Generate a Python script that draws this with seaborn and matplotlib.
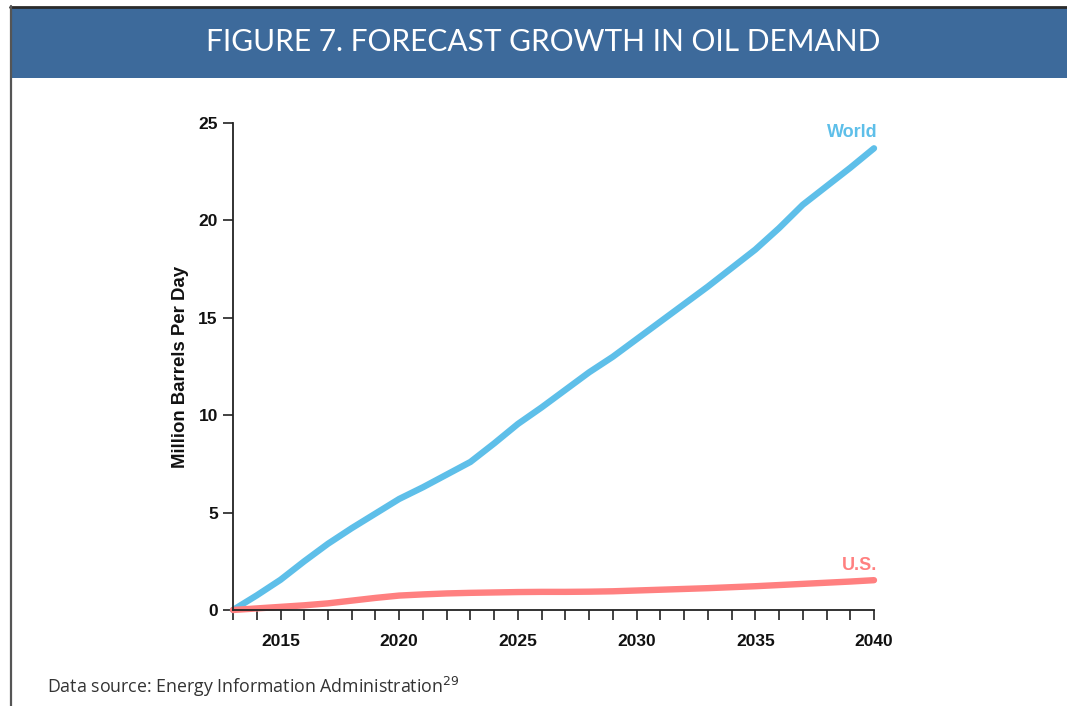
import matplotlib
matplotlib.use("Agg")
import matplotlib.pyplot as plt
from matplotlib.patches import Rectangle
from matplotlib.lines import Line2D
from matplotlib.ticker import MultipleLocator
import numpy as np
import pandas as pd
import seaborn as sns

# Forecast growth in oil demand relative to 2013 (million barrels per day)
years = list(range(2013, 2041))
world = [0.0, 0.75, 1.55, 2.5, 3.4, 4.2, 4.95, 5.7, 6.3, 6.95, 7.6, 8.55, 9.55, 10.4,
         11.3, 12.2, 13.0, 13.9, 14.8, 15.7, 16.6, 17.55, 18.5, 19.6, 20.8, 21.75,
         22.7, 23.7]
us = [0.0, 0.08, 0.16, 0.24, 0.34, 0.48, 0.62, 0.74, 0.80, 0.85, 0.88, 0.90, 0.92,
      0.93, 0.93, 0.94, 0.96, 1.0, 1.04, 1.08, 1.12, 1.17, 1.22, 1.28, 1.34, 1.40,
      1.46, 1.53]
series_names = ["World", "U.S."]
series_colors = ["#5ebfe9", "#ff8080"]
x_major_ticks = [2015, 2020, 2025, 2030, 2035, 2040]
y_ticks = [0, 5, 10, 15, 20, 25]

df = pd.DataFrame({
    "Year": years * 2,
    "Demand": world + us,
    "Region": [series_names[0]] * len(years) + [series_names[1]] * len(years),
})

sns.set_theme(style="ticks")
plt.rcParams["font.family"] = ["Liberation Sans", "DejaVu Sans"]

fig = plt.figure(figsize=(10.67, 7.06), dpi=100)
ax = fig.add_axes([0.2184, 0.136, 0.6007, 0.6898])

sns.lineplot(data=df, x="Year", y="Demand", hue="Region",
             palette=dict(zip(series_names, series_colors)),
             linewidth=4.6, legend=False, ax=ax, sort=True)
for line in ax.get_lines():
    line.set_solid_capstyle("round")
    line.set_solid_joinstyle("round")
    line.set_clip_on(False)

ax.set_xlim(2013, 2040)
ax.set_ylim(0, 25)
ax.set_xticks(x_major_ticks)
ax.xaxis.set_minor_locator(MultipleLocator(1))
ax.set_yticks(y_ticks)
ax.tick_params(axis="x", which="both", direction="out", length=7, width=1.2,
               color="#222222", pad=10)
ax.tick_params(axis="y", which="major", direction="out", length=7, width=1.2,
               color="#222222", pad=4)
for lab in ax.get_xticklabels() + ax.get_yticklabels():
    lab.set_fontweight("bold")
    lab.set_fontsize(12.5)
    lab.set_color("#111111")
ax.set_xlabel("")
ax.set_ylabel("Million Barrels Per Day", fontsize=13.4, fontweight="bold",
              color="#111111", labelpad=7)
sns.despine(ax=ax)
for side in ("left", "bottom"):
    ax.spines[side].set_linewidth(1.3)
    ax.spines[side].set_color("#222222")

# Series labels next to the line ends
ax.annotate(series_names[0], xy=(years[-1], world[-1]), xytext=(-22, 7),
            textcoords="offset pixels", ha="center", va="bottom",
            color=series_colors[0], fontsize=13, fontweight="bold")
ax.annotate(series_names[1], xy=(years[-1], us[-1]), xytext=(-14, 6),
            textcoords="offset pixels", ha="center", va="bottom",
            color=series_colors[1], fontsize=13, fontweight="bold")

# Frame lines and title banner
W, H = 1067, 706
fig.add_artist(Rectangle((11 / W, 1 - 78 / H), 1, 71 / H, transform=fig.transFigure,
                         facecolor="#3d6a9b", edgecolor="none", zorder=0))
fig.add_artist(Line2D([10 / W, 1], [1 - 6.5 / H, 1 - 6.5 / H], transform=fig.transFigure,
                      color="#2b2b2b", linewidth=2))
fig.add_artist(Line2D([10.5 / W, 10.5 / W], [0, 1 - 6 / H], transform=fig.transFigure,
                      color="#555555", linewidth=1.6))
fig.text(543 / W, 1 - 42 / H, "FIGURE 7. FORECAST GROWTH IN OIL DEMAND",
         ha="center", va="center", color="white", fontsize=21.5,
         family=["Lato", "DejaVu Sans"])

fig.text(47 / W, 1 - 687 / H, "Data source: Energy Information Administration$^{29}$",
         ha="left", va="center", color="#333333", fontsize=12.8,
         family=["Open Sans", "DejaVu Sans"])

fig.savefig("out.png", dpi=100)
